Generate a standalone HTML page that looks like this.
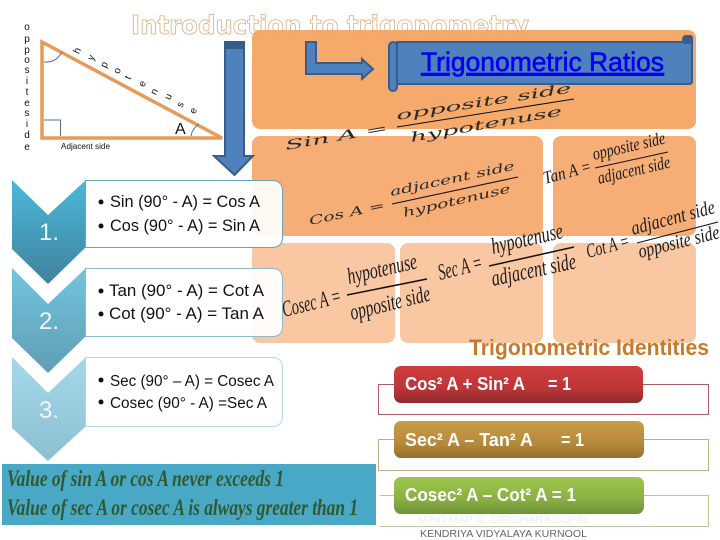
<!DOCTYPE html>
<html lang="en">
<head>
<meta charset="utf-8">
<title>Introduction to trigonometry</title>
<style>
html,body{margin:0;padding:0;background:#fff;width:720px;height:540px;overflow:hidden}
svg{display:block}
.s{font-family:"Liberation Sans",sans-serif}
.f{font-family:"Liberation Serif",serif;font-style:italic;fill:#1c1c1c}
.w{font-family:"DejaVu Serif",serif;font-style:italic;fill:#2a2a2a}
.c{font-family:"Liberation Sans",sans-serif;fill:#111}
.b{font-family:"Liberation Sans",sans-serif;font-weight:bold;fill:#fff;font-size:18px}
.h{font-family:"Liberation Sans",sans-serif;font-size:10px;fill:#111;text-anchor:middle}
.v{font-family:"Liberation Serif",serif;font-style:italic;font-weight:bold;fill:#2f5a30;font-size:23px}
</style>
</head>
<body>
<svg width="720" height="540" viewBox="0 0 720 540" xmlns="http://www.w3.org/2000/svg">
<defs>
<linearGradient id="c1" x1="0" y1="0" x2="0" y2="1"><stop offset="0" stop-color="#4cb8d8"/><stop offset="1" stop-color="#3f829e"/></linearGradient>
<linearGradient id="c2" x1="0" y1="0" x2="0" y2="1"><stop offset="0" stop-color="#72c5de"/><stop offset="1" stop-color="#5f9db5"/></linearGradient>
<linearGradient id="c3" x1="0" y1="0" x2="0" y2="1"><stop offset="0" stop-color="#a3d8ea"/><stop offset="1" stop-color="#8dbfd2"/></linearGradient>
<linearGradient id="r" x1="0" y1="0" x2="0" y2="1"><stop offset="0" stop-color="#cf3d3e"/><stop offset=".6" stop-color="#bd3638"/><stop offset="1" stop-color="#8f2b2c"/></linearGradient>
<linearGradient id="g" x1="0" y1="0" x2="0" y2="1"><stop offset="0" stop-color="#c99c46"/><stop offset=".6" stop-color="#b68a3c"/><stop offset="1" stop-color="#94702f"/></linearGradient>
<linearGradient id="n" x1="0" y1="0" x2="0" y2="1"><stop offset="0" stop-color="#9dc64b"/><stop offset=".6" stop-color="#8bb043"/><stop offset="1" stop-color="#6d9138"/></linearGradient>
</defs>

<!-- Title -->
<text x="131" y="34" font-family="'DejaVu Sans',sans-serif" font-weight="bold" font-size="26" fill="#fff" stroke="#d6ab7c" stroke-width=".8" textLength="398" lengthAdjust="spacingAndGlyphs">Introduction to trigonometry</text>

<!-- Orange panels -->
<rect x="252" y="30" width="444" height="99" rx="8" fill="#f4a460" opacity=".93"/>
<rect x="252" y="136" width="291" height="100" rx="8" fill="#f6ae76"/>
<rect x="553" y="136" width="143" height="100" rx="8" fill="#f6ae76"/>
<rect x="252" y="243" width="143" height="100" rx="8" fill="#f9c8a2"/>
<rect x="400" y="243" width="143" height="100" rx="8" fill="#f9c8a2"/>
<rect x="553" y="243" width="143" height="100" rx="8" fill="#f9c8a2"/>

<!-- Triangle -->
<polygon points="42,42 42,138 222,138" fill="#fff" stroke="#e79b5a" stroke-width="3.500"/>
<path d="M44 120H60.500V136M44 62Q56 63 62 52M191 136Q192 129 199 124" fill="none" stroke="#51708a" stroke-width="1"/>
<g class="h">
<text x="27" y="30">o</text><text x="27" y="42">p</text><text x="27" y="53">p</text><text x="27" y="63">o</text><text x="27" y="73">s</text><text x="27" y="84">i</text><text x="27" y="95">t</text><text x="27" y="106">e</text><text x="27" y="116">s</text><text x="27" y="127">i</text><text x="27" y="138">d</text><text x="27" y="150">e</text>
<text transform="translate(80,52) rotate(-65)">h</text>
<text transform="translate(94,59) rotate(-65)">y</text>
<text transform="translate(107,66) rotate(-65)">p</text>
<text transform="translate(120,72) rotate(-65)">o</text>
<text transform="translate(131,79) rotate(-65)">t</text>
<text transform="translate(145,85) rotate(-65)">e</text>
<text transform="translate(157,93) rotate(-65)">n</text>
<text transform="translate(171,98) rotate(-65)">u</text>
<text transform="translate(183,106) rotate(-65)">s</text>
<text transform="translate(196,112) rotate(-65)">e</text>
</g>
<text x="175" y="134" class="s" font-size="16" fill="#111">A</text>
<text x="61" y="149" class="s" font-size="8" fill="#111" textLength="49" lengthAdjust="spacingAndGlyphs">Adjacent side</text>

<!-- Down arrow -->
<polygon points="225,42 244,42 244,156 253,156 234.500,175 214,156 225,156" fill="#4f81bd" stroke="#385d8a" stroke-width="2"/>
<rect x="225" y="42" width="19" height="7" fill="#385d8a"/>

<!-- Bent arrow -->
<polygon points="306,42 316,42 316,63 362,63 362,59 373,69 362,79 362,74 306,74" fill="#4f81bd" stroke="#385d8a" stroke-width="2"/>

<!-- Scroll -->
<path d="M396 42H684V37Q684 36 686 36H690Q692 36 692 39V81Q692 84 689 84H397V42Z" fill="#4f81bd" stroke="#385d8a" stroke-width="2"/>
<rect x="682" y="36" width="10" height="8" rx="3" fill="#385d8a"/>
<rect x="389" y="42" width="8" height="49" rx="4" fill="#4f81bd" stroke="#385d8a" stroke-width="2"/>
<text x="421" y="71" class="s" font-size="27" fill="#0000ee" stroke="#0000ee" stroke-width=".6" text-decoration="underline" textLength="243" lengthAdjust="spacingAndGlyphs">Trigonometric Ratios</text>

<!-- Sin -->
<g font-size="13">
<text class="w" transform="translate(286,150) rotate(-10)" textLength="104" lengthAdjust="spacingAndGlyphs">Sin  A =</text>
<text class="w" transform="translate(397,120) rotate(-9)" textLength="177" lengthAdjust="spacingAndGlyphs">opposite side</text>
<text class="w" transform="translate(411,142) rotate(-10)" textLength="154" lengthAdjust="spacingAndGlyphs">hypotenuse</text>
</g>
<line x1="397" y1="127" x2="574" y2="99" stroke="#111" stroke-width="1"/>
<!-- Cos -->
<g font-size="12">
<text class="w" transform="translate(310,225) rotate(-12)" textLength="77" lengthAdjust="spacingAndGlyphs">Cos  A =</text>
<text class="w" transform="translate(391,196) rotate(-12)" textLength="127" lengthAdjust="spacingAndGlyphs">adjacent side</text>
<text class="w" transform="translate(404,217) rotate(-13)" textLength="110" lengthAdjust="spacingAndGlyphs">hypotenuse</text>
</g>
<line x1="392" y1="204" x2="518" y2="177" stroke="#111" stroke-width="1"/>
<!-- Tan -->
<g font-size="18">
<text class="f" transform="translate(545,184) rotate(-15)" textLength="49" lengthAdjust="spacingAndGlyphs">Tan A =</text>
<text class="f" transform="translate(594,160) rotate(-13)" textLength="74" lengthAdjust="spacingAndGlyphs">opposite side</text>
<text class="f" transform="translate(599,184) rotate(-13)" textLength="74" lengthAdjust="spacingAndGlyphs">adjacent side</text>
</g>
<line x1="595" y1="168" x2="668" y2="152" stroke="#111" stroke-width="1"/>
<!-- Cot -->
<g font-size="20">
<text class="f" transform="translate(588,258) rotate(-15)" textLength="44" lengthAdjust="spacingAndGlyphs">Cot A =</text>
<text class="f" transform="translate(633,235) rotate(-15)" textLength="86" lengthAdjust="spacingAndGlyphs">adjacent  side</text>
<text class="f" transform="translate(640,258) rotate(-14)" textLength="83" lengthAdjust="spacingAndGlyphs">opposite  side</text>
</g>
<line x1="637" y1="243" x2="718" y2="222" stroke="#111" stroke-width="1"/>
<!-- Sec -->
<g font-size="23">
<text class="f" transform="translate(440,280) rotate(-14)" textLength="45" lengthAdjust="spacingAndGlyphs">Sec A =</text>
<text class="f" transform="translate(493,254) rotate(-13)" textLength="73" lengthAdjust="spacingAndGlyphs">hypotenuse</text>
<text class="f" transform="translate(493,286) rotate(-12)" textLength="86" lengthAdjust="spacingAndGlyphs">adjacent  side</text>
</g>
<line x1="489" y1="266" x2="574" y2="247" stroke="#111" stroke-width="1.500"/>

<!-- Chevrons -->
<polygon points="12,180 48,215 86,180 86,247 48,284 12,249" fill="url(#c1)"/>
<polygon points="12,268 48,304 86,268 86,336 48,373 12,338" fill="url(#c2)"/>
<polygon points="12,357 48,393 86,357 86,426 48,461 12,428" fill="url(#c3)"/>
<g class="s" font-size="24" fill="#eef8fb">
<text x="39" y="240">1.</text>
<text x="39" y="329">2.</text>
<text x="39" y="418">3.</text>
</g>

<!-- Cards -->
<path d="M85.500 180.500H272Q282.500 180.500 282.500 191V237Q282.500 247.500 272 247.500H85.500Z" fill="#fff" fill-opacity=".92" stroke="#6ba4b8"/>
<path d="M85.500 268.500H272Q282.500 268.500 282.500 279V326Q282.500 336.500 272 336.500H85.500Z" fill="#fff" fill-opacity=".92" stroke="#8cbccb"/>
<path d="M85.500 357.500H272Q282.500 357.500 282.500 368V416Q282.500 426.500 272 426.500H85.500Z" fill="#fff" fill-opacity=".92" stroke="#b4d6e2"/>
<g fill="#111">
<circle cx="101" cy="202" r="2.500"/><circle cx="101" cy="226" r="2.500"/>
<circle cx="101" cy="291" r="2.500"/><circle cx="101" cy="314" r="2.500"/>
<circle cx="101" cy="380" r="2.500"/><circle cx="101" cy="402" r="2.500"/>
</g>
<g class="c" font-size="17">
<text x="110" y="207" textLength="150" lengthAdjust="spacingAndGlyphs">Sin (90° - A) = Cos A</text>
<text x="110" y="231" textLength="150" lengthAdjust="spacingAndGlyphs">Cos (90° - A) = Sin A</text>
<text x="109" y="296" textLength="155" lengthAdjust="spacingAndGlyphs">Tan (90° - A) = Cot A</text>
<text x="109" y="319" textLength="155" lengthAdjust="spacingAndGlyphs">Cot (90° - A) = Tan A</text>
</g>
<g class="c" font-size="15.500">
<text x="110" y="386" textLength="164" lengthAdjust="spacingAndGlyphs">Sec (90° – A) = Cosec A</text>
<text x="110" y="408" textLength="157" lengthAdjust="spacingAndGlyphs">Cosec (90° - A) =Sec A</text>
</g>

<!-- Cosec (over the card edge) -->
<g font-size="23">
<text class="f" transform="translate(284,317) rotate(-14)" textLength="60" lengthAdjust="spacingAndGlyphs">Cosec A =</text>
<text class="f" transform="translate(349,284) rotate(-13)" textLength="71" lengthAdjust="spacingAndGlyphs">hypotenuse</text>
<text class="f" transform="translate(352,320) rotate(-14)" textLength="82" lengthAdjust="spacingAndGlyphs">opposite side</text>
</g>
<line x1="347" y1="295" x2="427" y2="279" stroke="#111" stroke-width="1.500"/>

<!-- Blue note -->
<rect x="2" y="464" width="374" height="61" fill="#4aa8c7"/>
<text x="7" y="486" class="v" textLength="277" lengthAdjust="spacingAndGlyphs">Value of sin A or cos A never exceeds 1</text>
<text x="7" y="515" class="v" textLength="351" lengthAdjust="spacingAndGlyphs">Value of sec A or cosec A is always greater than 1</text>

<!-- Identities -->
<text x="469" y="355" class="s" font-size="22" font-weight="bold" fill="#c67a2e" textLength="240" lengthAdjust="spacingAndGlyphs">Trigonometric Identities</text>

<path d="M394 384.500H378.500V414.500H708.500V384.500H643" fill="none" stroke="#a85f63"/>
<path d="M394 439.500H378.500V470.500H708.500V439.500H644" fill="none" stroke="#bfae80"/>
<path d="M394 495.500H380M644 495.500H708.500V526.500H380" fill="none" stroke="#bcc89c"/>

<rect x="394" y="366" width="249" height="37" rx="7" fill="url(#r)"/>
<rect x="394" y="421" width="250" height="37" rx="7" fill="url(#g)"/>
<rect x="394" y="477" width="250" height="37" rx="7" fill="url(#n)"/>

<text x="405" y="390" class="b" textLength="120" lengthAdjust="spacingAndGlyphs">Cos² A + Sin² A</text>
<text x="548" y="390" class="b" textLength="23" lengthAdjust="spacingAndGlyphs">= 1</text>
<text x="405" y="446" class="b" textLength="128" lengthAdjust="spacingAndGlyphs">Sec² A – Tan²  A</text>
<text x="561" y="446" class="b" textLength="23" lengthAdjust="spacingAndGlyphs">= 1</text>
<text x="405" y="501" class="b" textLength="171" lengthAdjust="spacingAndGlyphs">Cosec² A – Cot² A = 1</text>

<!-- Footer -->
<text x="418" y="523" class="s" font-size="10" fill="#eeeeee" textLength="172" lengthAdjust="spacingAndGlyphs">MIND MAP   G. GIRIDHARA GOPAL</text>
<text x="420" y="537" class="s" font-size="10" fill="#666" textLength="167" lengthAdjust="spacingAndGlyphs">KENDRIYA VIDYALAYA   KURNOOL</text>
</svg>
</body>
</html>
